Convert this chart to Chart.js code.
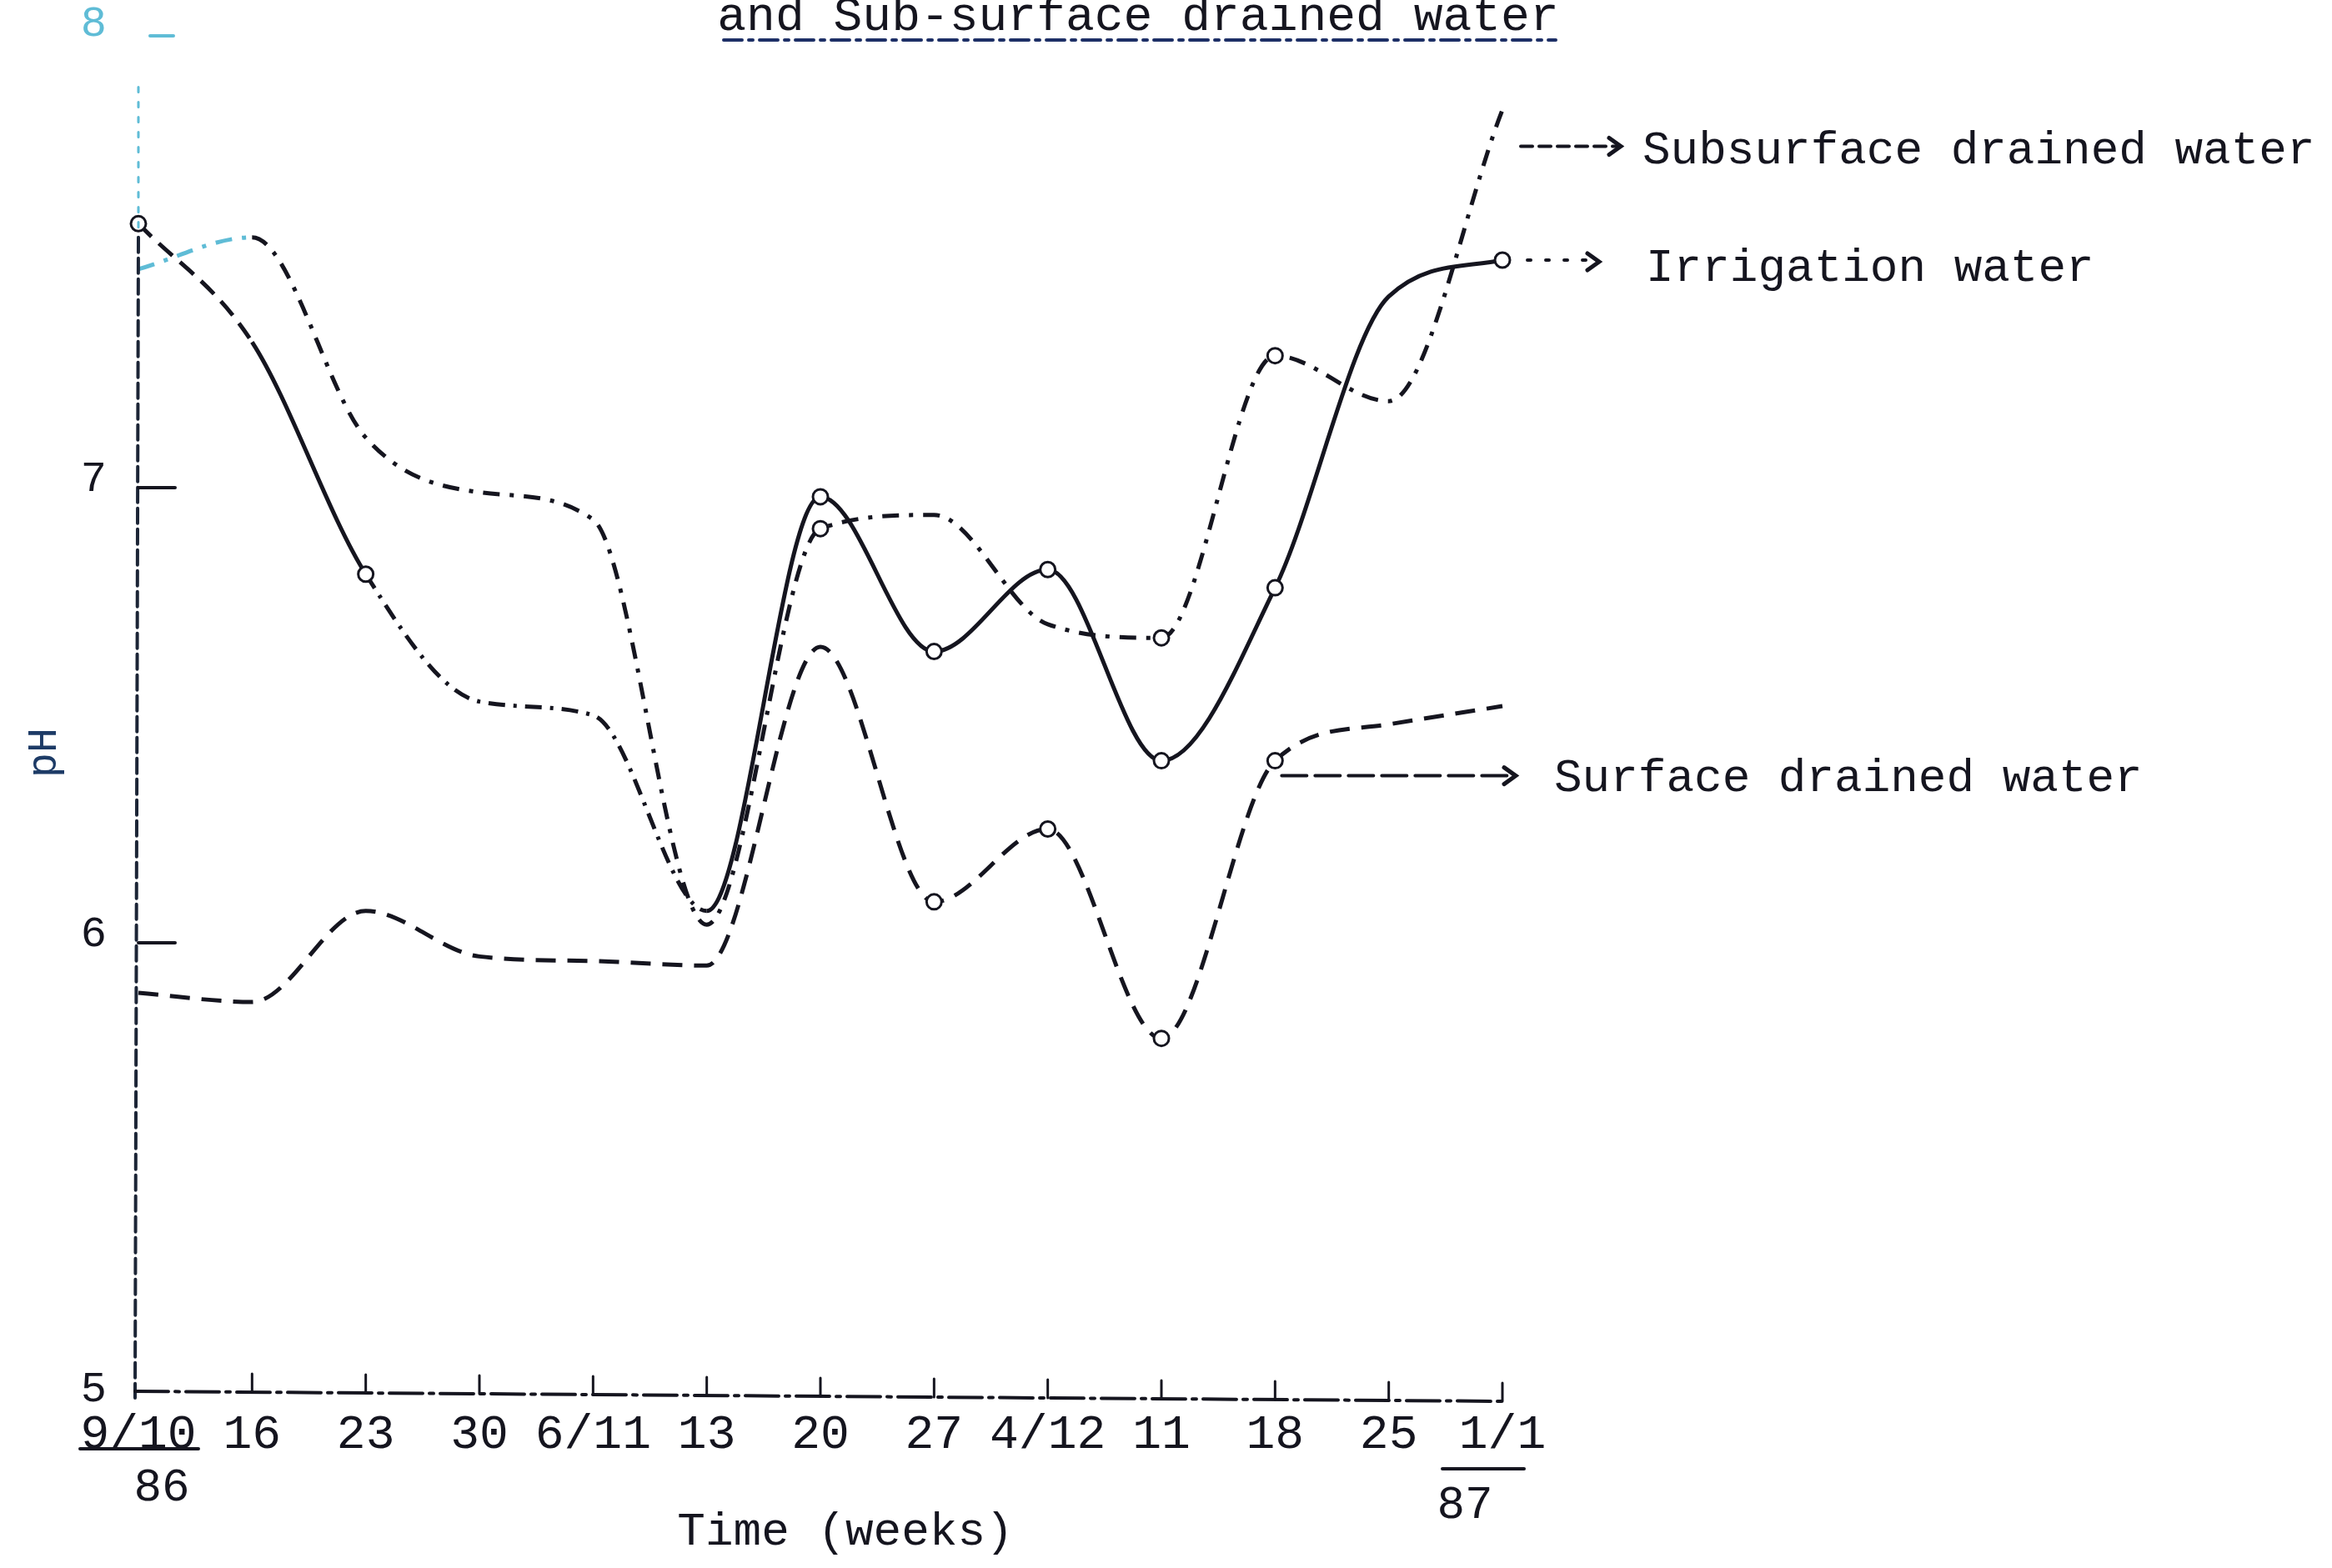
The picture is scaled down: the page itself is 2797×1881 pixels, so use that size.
<!DOCTYPE html>
<html><head><meta charset="utf-8">
<script src="https://cdn.jsdelivr.net/npm/chart.js@4.4.1/dist/chart.umd.min.js"></script>
<style>html,body{margin:0;padding:0;background:#fff;}canvas{display:block;}</style>
</head><body>
<canvas id="c" width="2797" height="1881"></canvas>
<script>
// ---- data ----
const categories = ['9/10','16','23','30','6/11','13','20','27','4/12','11','18','25','1/1'];
const irrigationWater = [7.58,7.32,6.81,6.53,6.50,6.07,6.98,6.64,6.82,6.40,6.78,7.42,7.50];
const subsurfaceWater = [7.48,7.55,7.11,6.99,6.93,6.04,6.91,6.94,6.70,6.67,7.29,7.19,7.83];
const surfaceWater    = [5.89,5.87,6.07,5.97,5.96,5.95,6.65,6.09,6.25,5.79,6.40,6.48,6.52];
const yTickValues = [5,6,7,8];
const seriesNames = ['Irrigation water','Subsurface drained water','Surface drained water'];
const titleText = 'and Sub-surface drained water';
const xTitle = 'Time (weeks)';
const yTitle = 'pH';
const yearStart = '86', yearEnd = '87';

const FONT = '"Liberation Mono","DejaVu Sans Mono",monospace';
const INK = '#15151f';
const CYAN = '#5fbcd6';

function mark(list){ return c => list.includes(c.dataIndex) ? 9 : 0; }

const annotate = {
  id: 'annotate',
  afterDraw(chart){
    const {ctx, scales:{x, y}} = chart;
    const last = categories.length - 1;
    const x0 = x.getPixelForValue(0), xN = x.getPixelForValue(last);
    const yb = y.getPixelForValue(5);
    ctx.save();
    ctx.lineCap = 'round';
    // y axis (hand drawn, broken)
    ctx.strokeStyle = CYAN; ctx.lineWidth = 3; ctx.setLineDash([6,12]);
    ctx.beginPath(); ctx.moveTo(x0, y.getPixelForValue(7.88)); ctx.lineTo(x0, y.getPixelForValue(7.55)); ctx.stroke();
    ctx.strokeStyle = '#1c2536'; ctx.lineWidth = 4; ctx.setLineDash([18,7]);
    ctx.beginPath(); ctx.moveTo(x0, y.getPixelForValue(7.55)); ctx.lineTo(x0-4, yb); ctx.stroke();
    // x axis
    ctx.strokeStyle = INK; ctx.setLineDash([40,8,5,8]);
    ctx.beginPath(); ctx.moveTo(x0-4, yb-8); ctx.lineTo(xN, yb+4); ctx.stroke();
    ctx.setLineDash([]);
    // x ticks (pointing up)
    ctx.lineWidth = 3;
    for (let i = 1; i <= last; i++){
      const px = x.getPixelForValue(i);
      const yy = yb - 8 + 12*i/last;
      ctx.beginPath(); ctx.moveTo(px, yy); ctx.lineTo(px, yy - 22); ctx.stroke();
    }
    // y ticks (pointing right)
    ctx.lineWidth = 4;
    [6,7].forEach(v => { const py = y.getPixelForValue(v);
      ctx.beginPath(); ctx.moveTo(x0, py); ctx.lineTo(x0 + 44, py); ctx.stroke(); });
    ctx.strokeStyle = CYAN;
    { const py = y.getPixelForValue(8) + 4;
      ctx.beginPath(); ctx.moveTo(x0 + 14, py); ctx.lineTo(x0 + 42, py); ctx.stroke(); }

    // texts
    ctx.fillStyle = INK; ctx.font = '56px ' + FONT;
    ctx.textAlign = 'center'; ctx.textBaseline = 'middle';
    ctx.fillText(xTitle, (x0 + xN)/2 + 30, 1838);
    ctx.fillText(yearStart, x0 + 28, 1785);
    ctx.fillText(yearEnd, xN - 45, 1806);
    ctx.lineWidth = 4; ctx.strokeStyle = INK;
    ctx.beginPath(); ctx.moveTo(x0 - 70, 1738); ctx.lineTo(x0 + 72, 1738); ctx.stroke();
    ctx.beginPath(); ctx.moveTo(xN - 72, 1762); ctx.lineTo(xN + 26, 1762); ctx.stroke();

    // y title
    ctx.save(); ctx.translate(54, (y.top + y.bottom)/2 + 45); ctx.rotate(-Math.PI/2);
    ctx.fillStyle = '#1d3b66'; ctx.font = '50px ' + FONT; ctx.fillText(yTitle, 0, 0); ctx.restore();

    // partial title at top
    ctx.textBaseline = 'alphabetic'; ctx.textAlign = 'center'; ctx.font = '58px ' + FONT;
    ctx.fillText(titleText, 1365, 36);
    ctx.strokeStyle = '#1d2f66'; ctx.lineWidth = 4; ctx.setLineDash([22,8,5,8]);
    ctx.beginPath(); ctx.moveTo(868, 48); ctx.lineTo(1866, 48); ctx.stroke();
    ctx.setLineDash([]);

    // labels with arrows at line ends
    ctx.font = '56px ' + FONT;
    ctx.textAlign = 'left'; ctx.textBaseline = 'middle'; ctx.fillStyle = INK;
    const arrowHead = (ax, ay) => { ctx.setLineDash([]); ctx.lineWidth = 5;
      ctx.beginPath(); ctx.moveTo(ax-14, ay-10); ctx.lineTo(ax, ay); ctx.lineTo(ax-14, ay+10); ctx.stroke(); };
    ctx.strokeStyle = INK;
    // subsurface
    let ly = y.getPixelForValue(7.75);
    ctx.lineWidth = 4; ctx.setLineDash([14,8]);
    ctx.beginPath(); ctx.moveTo(xN + 22, ly); ctx.lineTo(xN + 140, ly); ctx.stroke();
    arrowHead(xN + 142, ly);
    ctx.fillText(seriesNames[1], xN + 168, ly + 6);
    // irrigation
    ly = y.getPixelForValue(irrigationWater[last]);
    ctx.lineWidth = 4; ctx.setLineDash([4,18]);
    ctx.beginPath(); ctx.moveTo(xN + 30, ly); ctx.lineTo(xN + 100, ly); ctx.stroke();
    arrowHead(xN + 116, ly + 2);
    ctx.fillText(seriesNames[0], xN + 172, ly + 10);
    // surface
    ly = y.getPixelForValue(surfaceWater[10]) + 18;
    ctx.lineWidth = 4; ctx.setLineDash([30,10]);
    ctx.beginPath(); ctx.moveTo(x.getPixelForValue(10) + 8, ly); ctx.lineTo(xN + 12, ly); ctx.stroke();
    arrowHead(xN + 16, ly);
    ctx.fillText(seriesNames[2], xN + 62, ly + 4);
    ctx.restore();
  }
};

new Chart(document.getElementById('c'), {
  type: 'line',
  data: {
    labels: categories,
    datasets: [
      { label: seriesNames[0], data: irrigationWater, borderColor: INK, borderWidth: 5,
        cubicInterpolationMode: 'monotone', fill: false,
        pointRadius: mark([0,2,6,7,8,9,10,12]), pointBackgroundColor: '#fff', pointBorderColor: INK, pointBorderWidth: 3,
        segment: { borderDash: c => c.p0DataIndex === 0 ? [22,12] : (c.p0DataIndex >= 2 && c.p0DataIndex < 5 ? [20,10,4,10] : undefined) } },
      { label: seriesNames[1], data: subsurfaceWater, borderColor: INK, borderWidth: 5,
        borderDash: [20,12,5,12], cubicInterpolationMode: 'monotone', fill: false,
        pointRadius: mark([6,9,10]), pointBackgroundColor: '#fff', pointBorderColor: INK, pointBorderWidth: 3,
        segment: { borderColor: c => c.p0DataIndex === 0 ? CYAN : undefined } },
      { label: seriesNames[2], data: surfaceWater, borderColor: INK, borderWidth: 5,
        borderDash: [24,14], cubicInterpolationMode: 'monotone', fill: false,
        pointRadius: mark([7,8,9,10]), pointBackgroundColor: '#fff', pointBorderColor: INK, pointBorderWidth: 3 }
    ]
  },
  options: {
    responsive: false, animation: false, devicePixelRatio: 1,
    layout: { autoPadding: false, padding: { left: 0, top: 39, right: 995, bottom: 54 } },
    plugins: { legend: { display: false }, tooltip: { enabled: false }, title: { display: false } },
    scales: {
      x: { type: 'category', offset: false,
        grid: { display: false }, border: { display: false },
        ticks: { font: { family: FONT, size: 58 }, color: INK, padding: 2, maxRotation: 0, autoSkip: false },
        afterFit: s => { s.height = 150; s.paddingLeft = 0; s.paddingRight = 0; } },
      y: { min: 5, max: 8,
        grid: { display: false }, border: { display: false },
        afterBuildTicks: s => { s.ticks = yTickValues.map(v => ({ value: v })); },
        ticks: { font: { family: FONT, size: 52 }, padding: 30, labelOffset: -10,
          color: c => c.tick && c.tick.value === 8 ? CYAN : INK },
        afterFit: s => { s.width = 166; s.paddingTop = 0; s.paddingBottom = 0; } }
    }
  },
  plugins: [annotate]
});
</script>
</body></html>
